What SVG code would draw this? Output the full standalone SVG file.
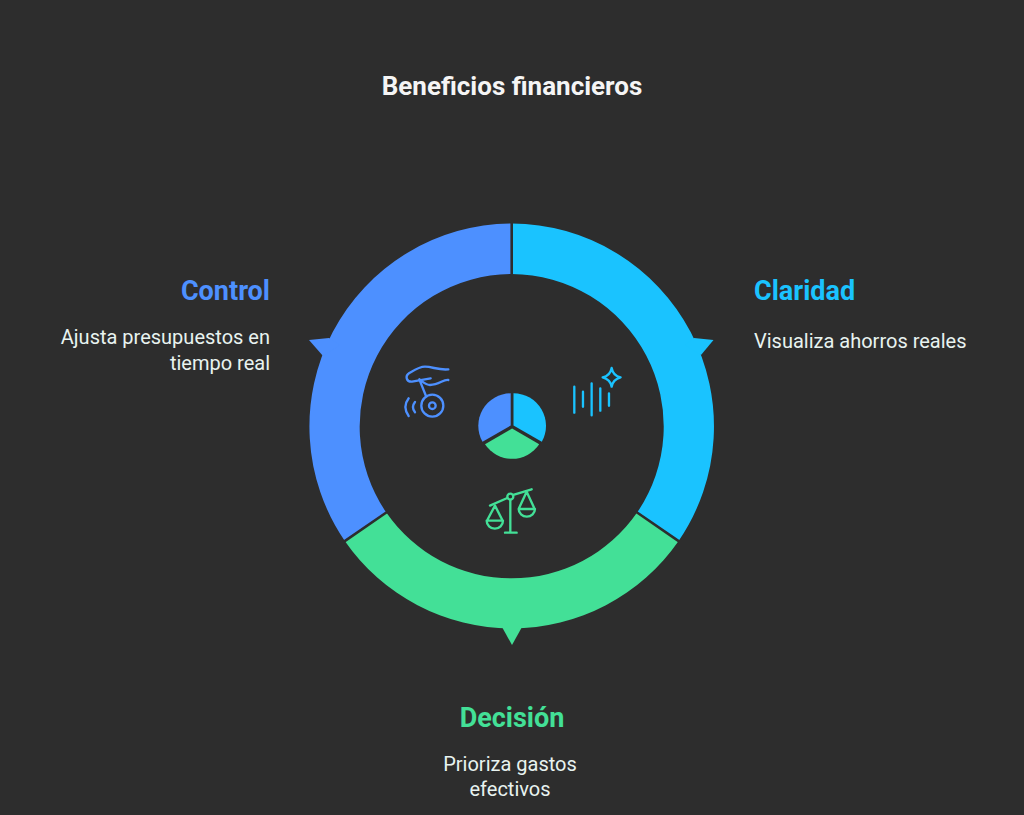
<svg xmlns="http://www.w3.org/2000/svg" width="1024" height="815" viewBox="0 0 1024 815">
<style>
.t{font-family:Roboto,"Liberation Sans",sans-serif}
.h{font-size:27px;font-weight:700}
.d{font-size:20px;fill:#e8f3f0}
.i{fill:none;stroke-width:7;stroke-linecap:round;stroke-linejoin:round}
.blue{fill:#4d90ff}.cyan{fill:#1ac3ff}.green{fill:#43e097}
.sep{stroke:#2d2d2d;stroke-width:2.6;fill:none}
</style>
<rect width="1024" height="815" fill="#2d2d2d"/>
<text class="t" x="512" y="95" text-anchor="middle" font-size="26" font-weight="700" fill="#f5f5f5">Beneficios financieros</text>
<g id="ring-control">
<path class="blue" d="M511.7 223.5A203 203 0 0 0 344.8 541L386.3 512.6A152.5 152.5 0 0 1 511.7 274Z"/>
<path class="blue" d="M329 338L309 340L323 356L340 345Z"/>
</g>
<g id="ring-claridad">
<path class="cyan" d="M511.7 223.5A203 203 0 0 1 678.6 541L637.1 512.6A152.5 152.5 0 0 0 511.7 274Z"/>
<path class="cyan" d="M694 338L713.500 340L701 355L685 345Z"/>
</g>
<g id="ring-decision">
<path class="green" d="M344.800 541A203 203 0 0 0 678.600 541L637.100 512.600A152.500 152.500 0 0 1 386.300 512.600Z"/>
<path class="green" d="M502 627L512 645L522 627Z"/>
</g>
<g id="connectors">
<path class="sep" d="M511.700 222V275.500M344 541.600L387.400 511.800M679.400 541.600L636 511.800"/>
</g>
<g id="pie">
<path class="cyan" d="M513.500 393.300A32.500 32.500 0 0 1 541.800 441.800L513.500 425.500Z"/>
<path class="blue" d="M510.700 393.300A32.500 32.500 0 0 0 482.500 441.800L510.700 425.500Z"/>
<path class="green" d="M485 444.300L512.100 428.500L539.200 444.300A32.500 32.500 0 0 1 485 444.300Z"/>
</g>
<g id="icon-control" transform="translate(380 340) scale(.3333)">
<g class="i" stroke="#4d90ff">
<path d="M205 88C175 91 158 80 135 80C118 80 100 92 88 99C74 108 79 126 96 125L152 115"/>
<path d="M205 120C190 117 178 135 150 135C138 135 128 125 118 118L138 168"/>
<circle cx="157" cy="197" r="33"/><circle cx="157" cy="197" r="10"/>
<path d="M86 175C73 192 73 210 86 228M105 186C97 196 97 207 105 217"/>
</g>
</g>
<g id="icon-claridad" transform="translate(380 340) scale(.3333)">
<g class="i" stroke="#1ac3ff">
<path d="M583 140V218M609 155V200M635 130V226M661 145V212M687 160V197"/>
<path d="M695 84C698 100 706 109 722 112C706 116 698 124 695 140C692 124 684 116 668 112C684 109 692 100 695 84Z"/>
</g>
</g>
<g id="icon-decision" transform="translate(380 340) scale(.3333)">
<g class="i" stroke="#43e097">
<path d="M330 497L382 474M400 465L455 448M391 480V578M375 578H410"/>
<circle cx="391" cy="470" r="9"/>
<path d="M345 497L322 540M345 497L367 540M320 542H369A24.500 24 0 0 1 320 542Z"/>
<path d="M440 455L417 505M440 455L463 505M416 507H465A24.500 23 0 0 1 416 507Z"/>
</g>
</g>
<g id="label-control">
<text class="t h blue" x="270" y="300" text-anchor="end">Control</text>
<text class="t d" x="270" y="344" text-anchor="end">Ajusta presupuestos en</text>
<text class="t d" x="270" y="370" text-anchor="end">tiempo real</text>
</g>
<g id="label-claridad">
<text class="t h cyan" x="754" y="300">Claridad</text>
<text class="t d" x="754" y="348">Visualiza ahorros reales</text>
</g>
<g id="label-decision">
<text class="t h green" x="512" y="727" text-anchor="middle">Decisión</text>
<text class="t d" x="510" y="771" text-anchor="middle">Prioriza gastos</text>
<text class="t d" x="510" y="796" text-anchor="middle">efectivos</text>
</g>
</svg>
